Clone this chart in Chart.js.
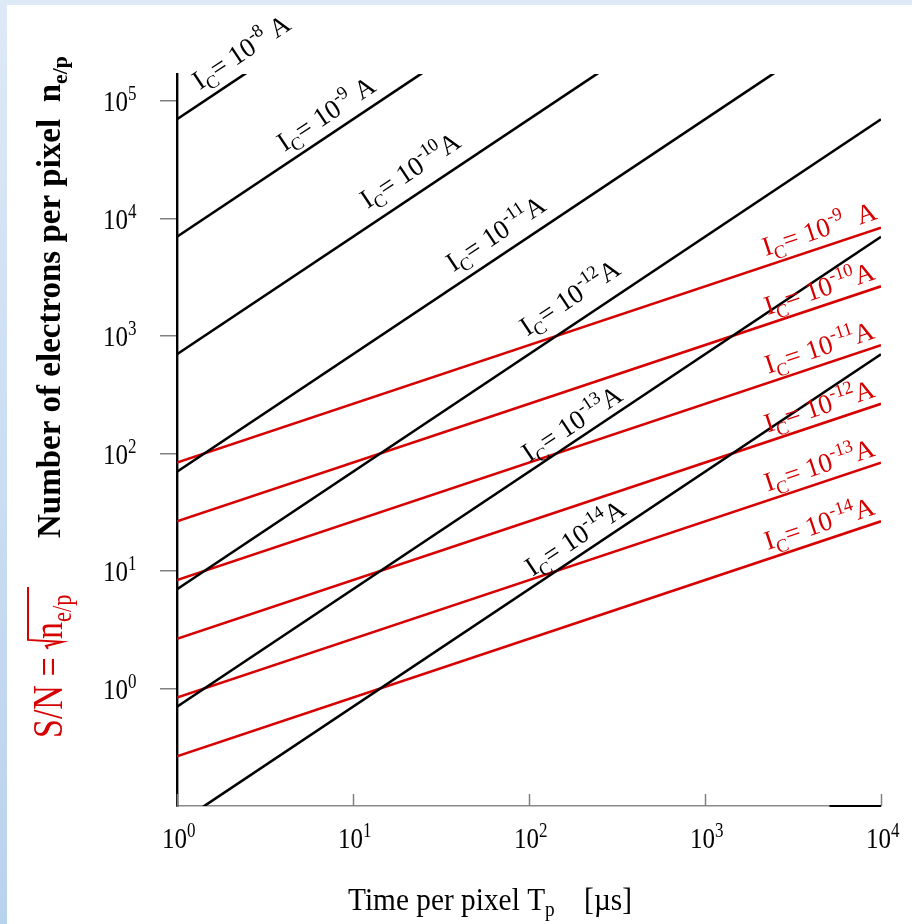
<!DOCTYPE html>
<html><head><meta charset="utf-8">
<script src="https://cdn.jsdelivr.net/npm/chart.js@4/dist/chart.umd.min.js"></script>
<style>html,body{margin:0;padding:0;background:#fff;overflow:hidden}canvas{display:block}</style>
</head><body>
<canvas id="c" width="912" height="924"></canvas>
<script>
// ---------------- data ----------------
const timeRange = [1, 10000];                      // T_p in µs (start, end of every line)
const currentExps = ['-8','-9','-10','-11','-12','-13','-14'];   // I_C = 10^exp A (black lines)
const electronsAtStart = [70000, 7000, 700, 70, 7, 0.7, 0.07];  // n_e/p at T_p = 1 µs
const electronsAtEnd = [7e8, 7e7, 7e6, 7e5, 70000, 7000, 700];   // n_e/p at T_p = 10^4 µs
const snrExps = ['-9','-10','-11','-12','-13','-14'];            // I_C for red S/N lines
const snrAtStart = [83.7, 26.5, 8.37, 2.65, 0.837, 0.265];       // S/N at T_p = 1 µs
const snrAtEnd = [8370, 2650, 837, 265, 83.7, 26.5];             // S/N at T_p = 10^4 µs
const xTickValues = [1, 10, 100, 1000, 10000];
const xTickExps = ['0','1','2','3','4'];
const yTickValues = [1, 10, 100, 1000, 10000, 100000];
const yTickExps = ['0','1','2','3','4','5'];

// ---------------- label placement (along the lines) ----------------
const blackLabelAtT = [2.47, 7.5, 22.5, 69, 182, 187, 195];
const blackLabelLift = [14, 13, 18, 15, 19, 9, 10];
const redLabelAtT = [4620, 4620, 4620, 4620, 4620, 4620];
const redLabelLift = [10, 9, 9, 9, 9, 9];

const RED = 'rgb(214,0,0)';
const FONT = '"Liberation Serif","Times New Roman",Times,serif';

function fnt(s, bold){ return (bold?'bold ':'') + s.toFixed(2) + 'px ' + FONT; }
function runsWidth(ctx, runs, o){
  let w = 0;
  for (const [t,k] of runs){ ctx.font = fnt(k==='n'?o.size:o.size*(o.small||0.66), o.bold); w += ctx.measureText(t).width; }
  return w;
}
function drawRuns(ctx, runs, o){
  ctx.save();
  ctx.translate(o.x, o.y);
  ctx.rotate(o.angle || 0);
  const w = runsWidth(ctx, runs, o);
  const sx = o.width ? o.width / w : (o.sx || 1);
  ctx.scale(sx, o.sy || 1);
  let cx = o.align==='center' ? -w/2 : (o.align==='right' ? -w : 0);
  ctx.fillStyle = o.color || '#000';
  ctx.textAlign = 'left'; ctx.textBaseline = 'alphabetic';
  for (const [t,k] of runs){
    const s = k==='n' ? o.size : o.size*(o.small||0.66);
    ctx.font = fnt(s, o.bold);
    const dy = k==='sub' ? o.size*(o.subDrop||0.22) : (k==='sup' ? -o.size*(o.supRaise||0.42) : 0);
    ctx.fillText(t, cx, dy);
    cx += ctx.measureText(t).width;
  }
  ctx.restore();
  return w*sx;
}

const datasets = [];
currentExps.forEach((e,i)=>{
  datasets.push({label:'n I_C=10^'+e, data:[{x:timeRange[0],y:electronsAtStart[i]},{x:timeRange[1],y:electronsAtEnd[i]}],
    borderColor:'#000', borderWidth:2.6, pointRadius:0, tension:0, fill:false});
});
snrExps.forEach((e,i)=>{
  datasets.push({label:'S/N I_C=10^'+e, data:[{x:timeRange[0],y:snrAtStart[i]},{x:timeRange[1],y:snrAtEnd[i]}],
    borderColor:RED, borderWidth:2.6, pointRadius:0, tension:0, fill:false});
});

function lineLabel(chart, ctx, dsIndex, T, lift, runs, color){
  const meta = chart.getDatasetMeta(dsIndex);
  const p0 = meta.data[0], p1 = meta.data[1];
  const ang = Math.atan2(p1.y-p0.y, p1.x-p0.x);
  const x = chart.scales.x.getPixelForValue(T);
  const y = p0.y + (x-p0.x)*(p1.y-p0.y)/(p1.x-p0.x) - lift;
  drawRuns(ctx, runs, {x, y, angle:ang, align:'center', size:27, color, small:0.68, subDrop:0.24, supRaise:0.42});
}

const decor = {
  id:'decor',
  beforeDraw(chart){
    const ctx = chart.ctx, W = chart.width, H = chart.height;
    ctx.save();
    ctx.fillStyle = '#fff'; ctx.fillRect(0,0,W,H);
    const g = ctx.createLinearGradient(0,0,0,H);
    g.addColorStop(0,'#dde9f6'); g.addColorStop(1,'#b9d2ec');
    ctx.fillStyle = g; ctx.fillRect(0,0,7,H);
    ctx.fillStyle = '#dde9f6'; ctx.fillRect(0,0,W,5);
    ctx.restore();
  },
  afterDraw(chart){
    const ctx = chart.ctx, xs = chart.scales.x, ys = chart.scales.y, a = chart.chartArea;
    ctx.save();
    // inward x ticks
    ctx.strokeStyle = '#808080'; ctx.lineWidth = 1.5;
    xTickValues.forEach(v=>{ const x = Math.round(xs.getPixelForValue(v))+0.5; ctx.beginPath(); ctx.moveTo(x,a.bottom); ctx.lineTo(x,a.bottom-12); ctx.stroke(); });
    ctx.strokeStyle = '#000'; ctx.lineWidth = 2;
    ctx.beginPath(); ctx.moveTo(xs.getPixelForValue(5100), a.bottom); ctx.lineTo(xs.getPixelForValue(10000), a.bottom); ctx.stroke();
    // y tick labels
    yTickValues.forEach((v,i)=>{
      const y = ys.getPixelForValue(v);
      drawRuns(ctx, [['10','n'],[yTickExps[i],'sup']], {x:103, y:y+10, size:25, sy:1.22, supRaise:0.36, small:0.68, color:'#000'});
    });
    // x tick labels
    xTickValues.forEach((v,i)=>{
      const x = xs.getPixelForValue(v);
      drawRuns(ctx, [['10','n'],[xTickExps[i],'sup']], {x:x-15, y:848, size:25, sy:1.22, supRaise:0.36, small:0.68, color:'#000'});
    });
    // x title
    drawRuns(ctx, [['Time per pixel T','n'],['p','sub'],['    [\u00b5s]','n']], {x:348, y:910, size:27, width:284, sy:1.15, subDrop:0.2, color:'#000'});
    // y title (bold, rotated)
    drawRuns(ctx, [['Number of electrons per pixel  n','n'],['e/p','sub']], {x:60, y:538, angle:-Math.PI/2, size:33, bold:true, subDrop:0.2, color:'#000'});
    // red S/N title
    const w1 = drawRuns(ctx, [['S/N = ','n']], {x:62, y:738, angle:-Math.PI/2, size:34, sy:1.25, color:RED});
    // radical
    ctx.save();
    ctx.translate(62, 738 - w1); ctx.rotate(-Math.PI/2);
    ctx.strokeStyle = RED; ctx.lineWidth = 2;
    ctx.beginPath(); ctx.moveTo(0,-14); ctx.lineTo(3,-16); ctx.lineTo(7,0); ctx.lineTo(9,-34); ctx.lineTo(62,-34); ctx.stroke();
    ctx.restore();
    drawRuns(ctx, [['n','n'],['e/p','sub']], {x:62, y:738 - w1 - 10, angle:-Math.PI/2, size:34, sy:1.25, subDrop:0.2, color:RED});
    // line labels
    currentExps.forEach((e,i)=>{
      const tail = i<2 ? ' A' : 'A';
      lineLabel(chart, ctx, i, blackLabelAtT[i], blackLabelLift[i], [['I','n'],['C','sub'],['= 10','n'],[e,'sup'],[tail,'n']], '#000');
    });
    snrExps.forEach((e,i)=>{
      const tail = i<1 ? '  A' : 'A';
      lineLabel(chart, ctx, currentExps.length+i, redLabelAtT[i], redLabelLift[i], [['I','n'],['C','sub'],['= 10','n'],[e,'sup'],[tail,'n']], RED);
    });
    ctx.restore();
  }
};

new Chart(document.getElementById('c'), {
  type:'line',
  data:{datasets},
  options:{
    responsive:false, animation:false, devicePixelRatio:1,
    parsing:true,
    layout:{padding:{left:0, top:74, right:31, bottom:0}},
    plugins:{legend:{display:false}, tooltip:{enabled:false}, title:{display:false}},
    scales:{
      x:{type:'logarithmic', min:timeRange[0], max:timeRange[1],
        afterBuildTicks:s=>{ s.ticks = xTickValues.map(v=>({value:v})); },
        afterFit:s=>{ s.height = 118; },
        ticks:{display:false},
        grid:{display:false},
        border:{display:true, color:'#8a8a8a', width:1.6}
      },
      y:{type:'logarithmic', min:0.1, max:1.7e5,
        afterBuildTicks:s=>{ s.ticks = yTickValues.map(v=>({value:v})); },
        afterFit:s=>{ s.width = 177; },
        ticks:{display:false},
        grid:{display:true, drawOnChartArea:false, drawTicks:true, tickLength:17, color:'#808080', lineWidth:1.5},
        border:{display:true, color:'#000', width:2.4}
      }
    }
  },
  plugins:[decor]
});
</script>
</body></html>
